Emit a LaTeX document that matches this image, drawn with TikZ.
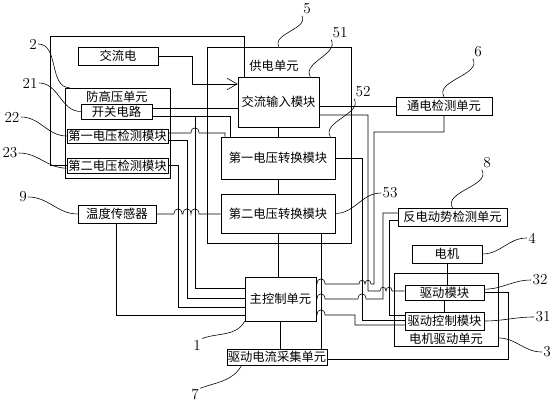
\documentclass[tikz,border=0pt]{standalone}
\usepackage{fontspec}
\newfontfamily\cjk{Noto Sans CJK SC}
\usetikzlibrary{positioning, arrows.meta}

\begin{document}
\begin{tikzpicture}[x=0.03cm, y=0.03cm,
      line width=0.5pt,
      blk/.style={draw, inner sep=0pt, font=\cjk\fontsize{10.5}{12}\selectfont},
      txt/.style={inner sep=0pt, font=\cjk\fontsize{10.5}{12}\selectfont},
      num/.style={inner sep=1pt, font=\fontsize{13}{15}\selectfont},
      hop/.style={out=90, in=90, looseness=2.2}]

      \useasboundingbox (0,0) rectangle (554,-403);

      % outer units
      \node[blk, minimum width=4.32cm, minimum height=5.88cm] (psu) at (279,-145) {};
      \node[blk, minimum width=3.15cm, minimum height=2.7cm] (hv) at (117.5,-133) {};
      \node[blk, minimum width=3.12cm, minimum height=2.19cm] (mdu) at (446,-309.5) {};
      \node[txt] (psulbl) at (274,-66) {供电单元};
      \node[txt] (hvlbl) at (117,-97) {防高压单元};
      \node[txt] (mdulbl) at (446,-339) {电机驱动单元};

      % blocks
      \node[blk, minimum width=2.4cm, minimum height=0.54cm] (ac) at (118,-56) {交流电};
      \node[blk, minimum width=2.43cm, minimum height=1.5cm] (acin) at (278.5,-102) {交流输入模块};
      \node[blk, minimum width=3.42cm, minimum height=1.26cm] (conv1) at (278,-158) {第一电压转换模块};
      \node[blk, minimum width=3.42cm, minimum height=1.17cm] (conv2) at (278,-213.5) {第二电压转换模块};
      \node[blk, minimum width=2.13cm, minimum height=0.45cm] (sw) at (116.5,-111.5) {开关电路};
      \node[blk, minimum width=3.03cm, minimum height=0.42cm] (det1) at (117.5,-136) {第一电压检测模块};
      \node[blk, minimum width=3.03cm, minimum height=0.45cm] (det2) at (117.5,-165.5) {第二电压检测模块};
      \node[blk, minimum width=2.34cm, minimum height=0.54cm] (temp) at (117,-214) {温度传感器};
      \node[blk, minimum width=2.88cm, minimum height=0.54cm] (pwrdet) at (444,-106) {通电检测单元};
      \node[blk, minimum width=2.13cm, minimum height=1.32cm] (mcu) at (280.5,-299) {主控制单元};
      \node[blk, minimum width=3.0cm, minimum height=0.48cm] (cur) at (277,-357) {驱动电流采集单元};
      \node[blk, minimum width=3.27cm, minimum height=0.54cm] (emf) at (452.5,-217) {反电动势检测单元};
      \node[blk, minimum width=2.1cm, minimum height=0.54cm] (motor) at (447,-254) {电机};
      \node[blk, minimum width=2.37cm, minimum height=0.45cm] (drv) at (444.5,-292.5) {驱动模块};
      \node[blk, minimum width=2.37cm, minimum height=0.54cm] (drvc) at (444.5,-321) {驱动控制模块};

      % power path
      \draw[-{Straight Barb[length=3mm, width=3.4mm]}] (ac.east) -- (192,-56) -- (192,-84) -- (acin.west |- 0,-84);
      \draw (acin.south) -- (acin.south |- conv1.north);
      \draw (conv1.south) -- (conv1.south |- conv2.north);
      \draw (conv2.south) -- (conv2.south |- mcu.north);
      \draw (conv2.south -| 321,0) -- (cur.north -| 321,0);
      \draw (mcu.south) -- (mcu.south |- cur.north);
      \draw (acin.east |- pwrdet.west) -- (pwrdet.west);

      % left side
      \draw (sw.east |- 0,-108) -- (acin.west |- 0,-108);
      \draw (sw.east |- 0,-116) -- (230,-116) -- (conv1.north -| 230,0);
      \coordinate (swj) at (195,-116);
      \draw (swj) -- (195,-288) -- (mcu.west |- 0,-288);
      \draw (det1.east |- 0,-133) -- (191,-133) to[hop] (199,-133) -- (225,-133) -- (conv1.north -| 225,0);
      \draw (det1.east |- 0,-140) -- (187,-140) -- (187,-298) -- (mcu.west |- 0,-298);
      \draw (det2.east) -| (178,-307) -- (mcu.west |- 0,-307);
      \draw (det2.west) -| (50,-36) -| (acin.north -| 244,0);
      \draw (temp.east) -- (174,-214) to[hop] (182,-214) -- (183,-214) to[hop] (191,-214)
            to[hop] (199,-214) -- (conv2.west |- 0,-214);
      \draw (temp.south -| 116,0) |- (mcu.west |- 0,-315);

      % right side
      \draw (acin.east |- 0,-115) -- (368,-115) -- (368,-291) -- (380,-291) to[hop] (386,-291)
            to[hop] (392,-291) -- (drv.west |- 0,-291);
      \draw (pwrdet.south) |- (374,-132) -- (374,-284) -- (371,-284) to[hop] (365,-284)
            to[hop] (359,-284) -- (325,-284) to[hop] (317,-284) -- (mcu.east |- 0,-284);
      \draw (conv1.east) -| (362,-320) -- (drvc.west |- 0,-320);
      \draw (emf.west |- 0,-213) -| (383,-299) -- (366,-299) to[hop] (358,-299)
            -- (325,-299) to[hop] (317,-299) -- (mcu.east |- 0,-299);
      \draw (emf.west |- 0,-220) -| (389,-315) -- (drvc.west |- 0,-315);
      \draw (mcu.east |- 0,-315) -- (317,-315) to[hop] (325,-315) -- (355,-315) -- (355,-325) -- (drvc.west |- 0,-325);
      \draw (motor.south) -- (motor.south |- drv.north);
      \draw (drv.south) -- (drvc.north);
      \draw (drv.east) -- (508,-292.5) |- (cur.east |- 0,-359);

      % reference numbers
      \node[num] (n2) at (33,-44) {2};
      \node[num] (n21) at (30,-83) {21};
      \node[num] (n22) at (12,-117) {22};
      \node[num] (n23) at (10,-153) {23};
      \node[num] (n9) at (23,-197) {9};
      \node[num] (n1) at (197,-345) {1};
      \node[num] (n7) at (195,-395) {7};
      \node[num] (n5) at (307,-9) {5};
      \node[num] (n51) at (340,-33) {51};
      \node[num] (n52) at (363,-92) {52};
      \node[num] (n53) at (390,-193) {53};
      \node[num] (n6) at (478,-52) {6};
      \node[num] (n8) at (487,-163) {8};
      \node[num] (n4) at (532,-238) {4};
      \node[num] (n32) at (540,-280) {32};
      \node[num] (n31) at (543,-317) {31};
      \node[num] (n3) at (547,-352) {3};

      \draw (n2.east) to[out=0, in=180] ([xshift=0.15cm]hv.north west);
      \draw (n21.east) to[out=0, in=180] (sw.west);
      \draw (n22.east) to[out=0, in=180] (det1.west);
      \draw (n23.east) to[out=0, in=180] ([yshift=-0.08cm]det2.west);
      \draw (n9.east) to[out=0, in=180] (temp.west);
      \draw (n1.north east) to[out=20, in=240] (mcu.south west);
      \draw (n7.north east) to[out=20, in=240] ([xshift=0.45cm]cur.south west);
      \draw (n5.south west) to[out=300, in=120] (psu.north);
      \draw (n51.south west) to[out=300, in=120] ([xshift=-0.27cm]acin.north east);
      \draw (n52.south west) to[out=300, in=120] ([xshift=-0.15cm]conv1.north east);
      \draw (n53.west) to[out=180, in=0] (conv2.east);
      \draw (n6.south west) to[out=300, in=120] (pwrdet.north);
      \draw (n8.south west) to[out=300, in=120] (emf.north);
      \draw (n4.west) to[out=180, in=0] (motor.east);
      \draw (n32.west) to[out=180, in=0] ([yshift=0.1cm]drv.east);
      \draw (n31.west) to[out=180, in=0] (drvc.east);
      \draw (n3.west) to[out=180, in=0] ([yshift=0.25cm]mdu.south east);
\end{tikzpicture}
\end{document}
